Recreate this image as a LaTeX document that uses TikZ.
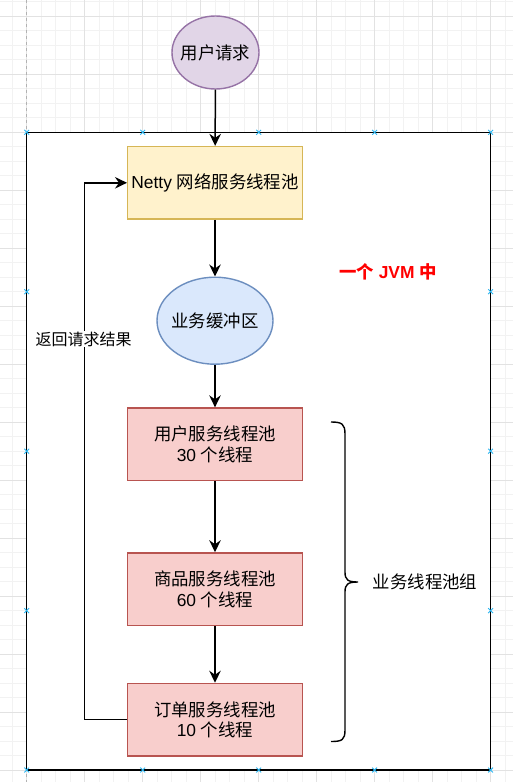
\documentclass[tikz,border=0pt]{standalone}
\usepackage{fontspec}
\setmainfont{Liberation Sans}
\newfontfamily\cjk{Noto Sans CJK SC}
\usetikzlibrary{shapes.geometric,arrows.meta}
\newcommand\zh[1]{{\cjk #1}}
\definecolor{purfill}{HTML}{E1D5E7}
\definecolor{purline}{HTML}{9673A6}
\definecolor{yelfill}{HTML}{FFF2CC}
\definecolor{yelline}{HTML}{D6B656}
\definecolor{blufill}{HTML}{DAE8FC}
\definecolor{bluline}{HTML}{6C8EBF}
\definecolor{redfill}{HTML}{F8CECC}
\definecolor{redline}{HTML}{B85450}
\definecolor{mkblue}{HTML}{29B6F2}
\definecolor{gridminor}{HTML}{F2F2F2}
\definecolor{gridmajor}{HTML}{E2E2E2}
\definecolor{jvmred}{HTML}{FF0000}
\begin{document}
\begin{tikzpicture}[x=1pt,y=-1pt,
  txt/.style={font=\fontsize{17.4}{20.5}\selectfont, text=black},
  box/.style={txt, rectangle, draw, line width=1.4pt, minimum width=174.6pt, minimum height=72.5pt, inner sep=0pt, align=center},
  oval/.style={ellipse, draw, line width=1.4pt, inner sep=0pt},
  arr/.style={line width=1.5pt, -{Stealth[length=12pt,width=11.5pt,inset=4pt]}},
  mk/.style={draw=mkblue, line width=0.9pt}]
\useasboundingbox (0,0) rectangle (513,782);
% background grid
\foreach \i in {0,...,35} { \draw[gridminor, line width=0.8pt] ({-2.3+14.5*\i},0) -- ++(0,782); }
\foreach \i in {0,...,53} { \draw[gridminor, line width=0.8pt] (0,{1.8+14.5*\i}) -- ++(513,0); }
\foreach \k in {0,...,8} { \draw[gridmajor, line width=0.8pt] ({26.7+58*\k},0) -- ++(0,782); }
\foreach \k in {0,...,13} { \draw[gridmajor, line width=0.8pt] (0,{16.3+58*\k}) -- ++(513,0); }
\draw[gray!60, dashed, line width=0.8pt] (26.7,0) -- (26.7,782);
% JVM container
\node[draw, fill=white, line width=1.4pt, rectangle, inner sep=0pt, minimum width=463.9pt, minimum height=637.7pt] (jvm) at (258.65,451.15) {};
% nodes
\node[oval, fill=purfill, draw=purline, minimum width=87pt, minimum height=73pt,
  label={[txt]center:\zh{用户请求}}] (req) at (215.5,52.5) {};
\node[box, fill=yelfill, draw=yelline] (netty) at (215,182.8) {Netty \zh{网络服务线程池}};
\node[oval, fill=blufill, draw=bluline, minimum width=116pt, minimum height=87pt,
  label={[txt]center:\zh{业务缓冲区}}] (buf) at (215,320.7) {};
\node[box, fill=redfill, draw=redline] (user) at (215,444.3) {\zh{用户服务线程池}\\30 \zh{个线程}};
\node[box, fill=redfill, draw=redline] (goods) at (215,589.2) {\zh{商品服务线程池}\\60 \zh{个线程}};
\node[box, fill=redfill, draw=redline] (order) at (215,719.7) {\zh{订单服务线程池}\\10 \zh{个线程}};
\node[font=\fontsize{17.4}{20}\selectfont\bfseries, text=jvmred] (jvmlbl) at (388,271.5) {\zh{一个} JVM \zh{中}};
% connectors
\draw[arr] (req) -- (netty);
\draw[arr] (netty) -- (buf);
\draw[arr] (buf) -- (user);
\draw[arr] (user) -- (goods);
\draw[arr] (goods) -- (order);
\coordinate (bend) at (84.3,719.7);
\draw[arr] (order.west) -- (bend) |- (netty.west);
\node[font=\fontsize{16}{18}\selectfont, fill=white, inner sep=1pt] (ret) at (83.5,339) {\zh{返回请求结果}};
% brace
\draw[line width=1.4pt] (331,422) .. controls (342,422) and (345,424) .. (345,434) -- (345,572)
  .. controls (345,580) and (348,582) .. (358,582)
  .. controls (348,582) and (345,584) .. (345,592) -- (345,730)
  .. controls (345,740) and (342,741.5) .. (331,741.5);
\node[txt] (grp) at (425,582) {\zh{业务线程池组}};
% selection markers
\foreach \x in {26.7,142.7,258.7,374.6,490.6} {
  \foreach \y in {132.3,770} {
    \draw[mk] (\x-2.4,\y-2.4) -- (\x+2.4,\y+2.4) (\x-2.4,\y+2.4) -- (\x+2.4,\y-2.4);
  }
}
\foreach \y in {291.7,451.2,610.6} {
  \foreach \x in {26.7,490.6} {
    \draw[mk] (\x-2.4,\y-2.4) -- (\x+2.4,\y+2.4) (\x-2.4,\y+2.4) -- (\x+2.4,\y-2.4);
  }
}
\end{tikzpicture}
\end{document}
